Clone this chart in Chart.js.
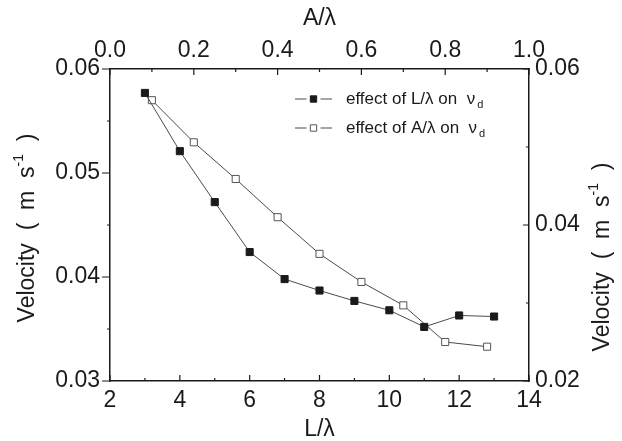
<!DOCTYPE html>
<html>
<head>
<meta charset="utf-8">
<title>Velocity vs L/λ and A/λ</title>
<script src="https://cdn.jsdelivr.net/npm/chart.js@4.4.0/dist/chart.umd.min.js"></script>
<style>
  html, body { margin: 0; padding: 0; background: #fff; }
  #wrap { width: 622px; height: 441px; }
</style>
</head>
<body>
<div id="wrap"><canvas id="velocity-chart" width="622" height="441"></canvas></div>
<script>
// L/λ series: bottom and left axes
const lengthRatio = [3, 4, 5, 6, 7, 8, 9, 10, 11, 12, 13];
const velocityByLength = [0.0577, 0.0521, 0.0472, 0.0424, 0.0398, 0.0387, 0.0377, 0.0368, 0.0352, 0.0363, 0.0362];

// A/λ series: top and right axes
const amplitudeRatio = [0.1, 0.2, 0.3, 0.4, 0.5, 0.6, 0.7, 0.8, 0.9];
const velocityByAmplitude = [0.0560, 0.0506, 0.0459, 0.0410, 0.0363, 0.0327, 0.0297, 0.0250, 0.0244];

// legend text, the second part is drawn as a subscript
const legendLabels = [['effect of L/λ on  ν', 'd'], ['effect of A/λ on  ν', 'd']];

const FONT = '"Liberation Sans", Arial, Helvetica, sans-serif';
const INK = '#1a1a1a';

// small inward/outward tick marks, major at each label and minor halfway
function drawTickMarks(chart) {
    const ctx = chart.ctx;
    const a = chart.chartArea;
    const s = chart.scales;
    const marks = (scale, major, minor, draw) => {
        const vals = scale.ticks.map((t) => t.value);
        vals.forEach((v, i) => {
            draw(scale.getPixelForValue(v), major);
            if (i < vals.length - 1) draw(scale.getPixelForValue((v + vals[i + 1]) / 2), minor);
        });
    };
    ctx.save();
    ctx.strokeStyle = INK;
    ctx.lineWidth = 1.2;
    ctx.beginPath();
    marks(s.x, 6, 3, (p, len) => { ctx.moveTo(p, a.bottom); ctx.lineTo(p, a.bottom - len); });
    marks(s.x2, 6, 3, (p, len) => { ctx.moveTo(p, a.top); ctx.lineTo(p, a.top + len); });
    marks(s.y, 8, 3, (p, len) => { ctx.moveTo(a.left, p); ctx.lineTo(a.left - len, p); });
    marks(s.y2, 6, 3, (p, len) => { ctx.moveTo(a.right, p); ctx.lineTo(a.right - len, p); });
    ctx.stroke();
    ctx.restore();
}

// rotated "Velocity ( m s-1 )" with a superscript
function drawVelocityTitle(ctx, cx, cy) {
    const main = '23px ' + FONT;
    const sup = '14px ' + FONT;
    const parts = [['Velocity  (  m  s', main, 0], ['-1', sup, -9], ['  )', main, 0]];
    ctx.save();
    ctx.translate(cx, cy);
    ctx.rotate(-Math.PI / 2);
    ctx.fillStyle = INK;
    ctx.textBaseline = 'middle';
    ctx.textAlign = 'left';
    let total = 0;
    parts.forEach(([t, f]) => { ctx.font = f; total += ctx.measureText(t).width; });
    let x = -total / 2;
    parts.forEach(([t, f, dy]) => {
        ctx.font = f;
        ctx.fillText(t, x, dy);
        x += ctx.measureText(t).width;
    });
    ctx.restore();
}

const titlesPlugin = {
    id: 'axisTitles',
    afterDraw(chart) {
        const ctx = chart.ctx;
        const a = chart.chartArea;
        const midX = (a.left + a.right) / 2;
        const midY = (a.top + a.bottom) / 2;
        drawTickMarks(chart);
        ctx.save();
        ctx.fillStyle = INK;
        ctx.font = '23px ' + FONT;
        ctx.textAlign = 'center';
        ctx.textBaseline = 'middle';
        ctx.fillText('L/λ', midX, 430);
        ctx.fillText('A/λ', midX, 19);
        ctx.restore();
        drawVelocityTitle(ctx, 28, midY + 3);
        drawVelocityTitle(ctx, 603, midY + 32);
    }
};

// legend: dash, marker, dash, then label with subscript
const legendPlugin = {
    id: 'innerLegend',
    afterDraw(chart) {
        const ctx = chart.ctx;
        const a = chart.chartArea;
        const x0 = a.left + 185;
        chart.data.datasets.forEach((ds, i) => {
            const y = a.top + 30 + i * 29;
            const mx = x0 + 18.5;
            ctx.save();
            ctx.strokeStyle = ds.borderColor;
            ctx.lineWidth = ds.borderWidth;
            ctx.beginPath();
            ctx.moveTo(x0, y);
            ctx.lineTo(mx - 7, y);
            ctx.moveTo(mx + 7, y);
            ctx.lineTo(x0 + 37, y);
            ctx.stroke();
            ctx.fillStyle = ds.pointBackgroundColor;
            ctx.strokeStyle = ds.pointBorderColor;
            Chart.helpers.drawPoint(ctx, { pointStyle: 'rect', radius: 4.5, borderWidth: 1, rotation: 0 }, mx, y);
            ctx.fillStyle = INK;
            ctx.textBaseline = 'middle';
            ctx.textAlign = 'left';
            ctx.font = '17px ' + FONT;
            const [label, sub] = legendLabels[i];
            ctx.fillText(label, x0 + 51, y);
            const w = ctx.measureText(label).width;
            ctx.font = '11px ' + FONT;
            ctx.fillText(sub, x0 + 53 + w, y + 6);
            ctx.restore();
        });
    }
};

const tickFont = { family: FONT, size: 23 };

new Chart(document.getElementById('velocity-chart'), {
    type: 'line',
    data: {
        datasets: [{
            label: legendLabels[0].join(''),
            data: lengthRatio.map((x, i) => ({ x: x, y: velocityByLength[i] })),
            xAxisID: 'x',
            yAxisID: 'y',
            borderColor: '#4a4a4a',
            borderWidth: 1,
            pointStyle: 'rect',
            pointRadius: 5,
            pointBackgroundColor: '#1a1a1a',
            pointBorderColor: '#1a1a1a',
            pointBorderWidth: 1,
            tension: 0
        }, {
            label: legendLabels[1].join(''),
            data: amplitudeRatio.map((x, i) => ({ x: x, y: velocityByAmplitude[i] })),
            xAxisID: 'x2',
            yAxisID: 'y2',
            borderColor: '#4a4a4a',
            borderWidth: 1,
            pointStyle: 'rect',
            pointRadius: 5,
            pointBackgroundColor: '#ffffff',
            pointBorderColor: '#555555',
            pointBorderWidth: 1,
            tension: 0
        }]
    },
    options: {
        responsive: false,
        animation: false,
        devicePixelRatio: 1,
        layout: { padding: 0 },
        plugins: {
            legend: { display: false },
            tooltip: { enabled: false }
        },
        scales: {
            x: {
                type: 'linear',
                position: 'bottom',
                min: 2,
                max: 14,
                ticks: { stepSize: 2, padding: 6, font: tickFont, color: INK, maxRotation: 0, autoSkip: false },
                grid: { display: false, drawTicks: false },
                border: { color: INK, width: 1.5 },
                afterFit: (scale) => { scale.height = 60; }
            },
            x2: {
                type: 'linear',
                position: 'top',
                min: 0,
                max: 1,
                ticks: { stepSize: 0.2, padding: 5, font: tickFont, color: INK, maxRotation: 0, autoSkip: false,
                    callback: (v) => v.toFixed(1) },
                grid: { display: false, drawTicks: false },
                border: { color: INK, width: 1.5 },
                afterFit: (scale) => { scale.height = 69; }
            },
            y: {
                type: 'linear',
                position: 'left',
                min: 0.03,
                max: 0.06,
                ticks: { stepSize: 0.01, padding: 10, font: tickFont, color: INK, autoSkip: false,
                    callback: (v) => v.toFixed(2) },
                grid: { display: false, drawTicks: false },
                border: { color: INK, width: 1.5 },
                afterFit: (scale) => { scale.width = 110; }
            },
            y2: {
                type: 'linear',
                position: 'right',
                min: 0.02,
                max: 0.06,
                ticks: { stepSize: 0.02, padding: 6, font: tickFont, color: INK, autoSkip: false,
                    callback: (v) => v.toFixed(2) },
                grid: { display: false, drawTicks: false },
                border: { color: INK, width: 1.5 },
                afterFit: (scale) => { scale.width = 93; }
            }
        }
    },
    plugins: [titlesPlugin, legendPlugin]
});
</script>
</body>
</html>
